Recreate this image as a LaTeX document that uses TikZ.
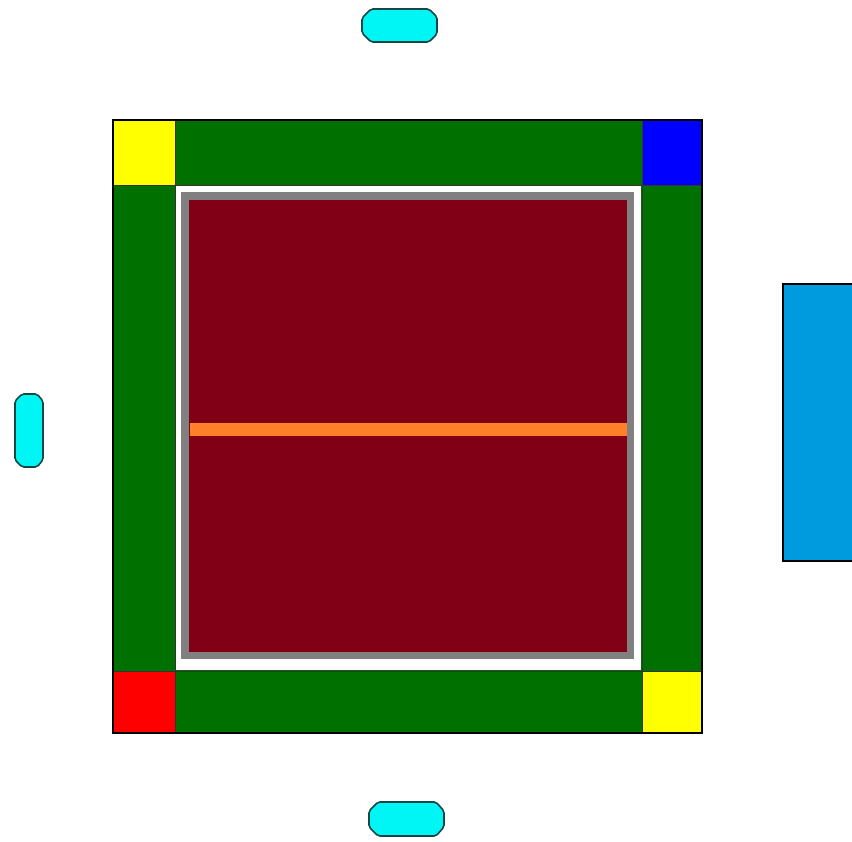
\documentclass[tikz,border=0pt]{standalone}
\definecolor{fgreen}{RGB}{0,112,0}
\definecolor{wine}{RGB}{130,0,22}
\definecolor{strip}{RGB}{255,128,40}
\definecolor{pill}{RGB}{0,245,245}
\definecolor{pillline}{RGB}{20,70,70}
\definecolor{sky}{RGB}{0,155,222}
\definecolor{cyel}{RGB}{255,255,0}
\definecolor{cblue}{RGB}{0,0,255}
\definecolor{cred}{RGB}{255,0,0}
\begin{document}
\begin{tikzpicture}[x=1pt,y=-1pt,
  cell/.style={draw=black!80,line width=0.8pt},
  pillshape/.style={fill=pill,draw=pillline,line width=1.6pt,rounded corners=2pt}]
\useasboundingbox (0,0) rectangle (852,842);
% green frame pieces
\fill[fgreen] (113,120) rectangle (702,733);
\draw[cell,fill=fgreen] (175,120) rectangle (642,185);
\draw[cell,fill=fgreen] (175,671) rectangle (642,733);
\draw[cell,fill=fgreen] (113,185) rectangle (175,671);
\draw[cell,fill=fgreen] (642,185) rectangle (702,671);
% corner squares
\draw[cell,fill=cyel] (113,120) rectangle (175,185);
\draw[cell,fill=cblue] (642,120) rectangle (702,185);
\draw[cell,fill=cred] (113,671) rectangle (175,733);
\draw[cell,fill=cyel] (642,671) rectangle (702,733);
% outer border
\draw[black,line width=1.4pt] (113,120) rectangle (702,733);
% inner area
\fill[white] (176,186) rectangle (641,670);
\fill[gray] (181,192) rectangle (634,659);
\fill[wine] (189,200) rectangle (627,652);
\fill[strip] (190,423) rectangle (627,436);
% pills
\draw[pillshape] (371,9) -- (429,9) -- (437,17) -- (437,34) -- (429,42) -- (371,42) -- (362,33) -- (362,18) -- cycle;
\draw[pillshape] (22,394) -- (37,394) -- (43,401) -- (43,460) -- (37,467) -- (22,467) -- (15,460) -- (15,401) -- cycle;
\draw[pillshape] (378,802) -- (436,802) -- (444,811) -- (444,827) -- (436,836) -- (378,836) -- (369,827) -- (369,811) -- cycle;
% right blue rect (clipped)
\draw[fill=sky,draw=black,line width=2.6pt] (783,284) rectangle (870,561);
\end{tikzpicture}
\end{document}
